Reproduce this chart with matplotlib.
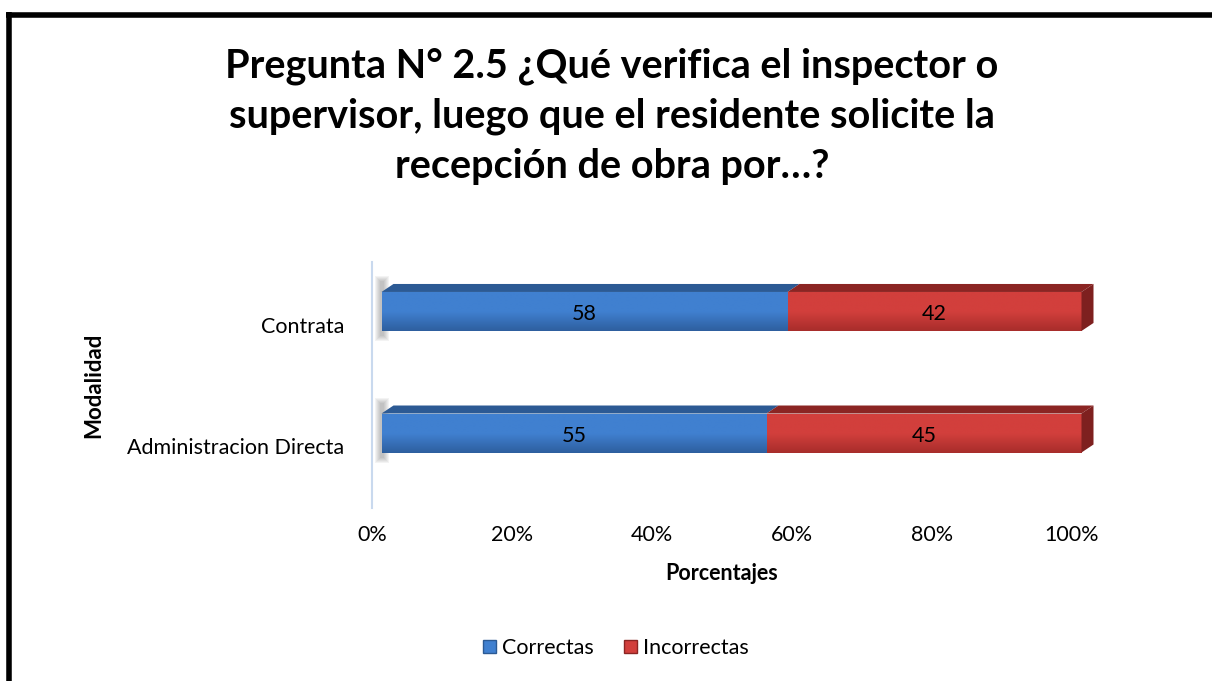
import matplotlib
matplotlib.use("Agg")
import matplotlib.pyplot as plt
import numpy as np
from matplotlib.patches import Polygon, Rectangle
from matplotlib.lines import Line2D

plt.rcParams['font.family'] = ['Lato', 'DejaVu Sans']

categorias = ['Administracion Directa', 'Contrata']
correctas = [55, 58]
incorrectas = [45, 42]
series = ['Correctas', 'Incorrectas']
ticks = [0, 20, 40, 60, 80, 100]
tick_labels = ['0%', '20%', '40%', '60%', '80%', '100%']

# colours: (front top, front bottom, top face, side face)
colores = {
    'Correctas': ('#4080D0', '#2E5F9F', '#2C5A94', '#284F85'),
    'Incorrectas': ('#D23F3C', '#A82D2B', '#8B2523', '#7E201F'),
}

W, H = 1212, 681
fig = plt.figure(figsize=(W / 100, H / 100), dpi=100)
ax = fig.add_axes([372 / W, (H - 508) / H, 700 / W, 246 / H])
ymin, ymax = -0.617, 1.407
ax.set_xlim(0, 100)
ax.set_ylim(ymin, ymax)

px_x = 100 / 700
px_y = (ymax - ymin) / 246
x_off = 9.5 * px_x
dx, dy = 12 * px_x, 8 * px_y
alto = 39 * px_y


def grad_rect(x0, x1, yb, yt, c_top, c_bot):
    cmap = matplotlib.colors.LinearSegmentedColormap.from_list('g', [c_bot, c_top, c_top])
    g = np.linspace(0, 1, 64).reshape(-1, 1)
    im = ax.imshow(g, cmap=cmap, extent=(x0, x1, yb, yt), origin='lower',
                   aspect='auto', zorder=3, interpolation='bilinear')
    r = Rectangle((x0, yb), x1 - x0, yt - yb, transform=ax.transData)
    im.set_clip_path(r)


for i, cat in enumerate(categorias):
    yb, yt = i - alto / 2, i + alto / 2
    # soft shadow at left end
    for k in range(6):
        s = 6 - k
        ax.add_patch(Rectangle((x_off - (1 + s) * px_x, yb - (4 + s) * px_y),
                               (2 + 2 * s) * px_x, alto + (14 + 2 * s) * px_y,
                               color='#404040', alpha=0.06, lw=0, zorder=2, clip_on=False))
    left = x_off
    vals = [correctas[i], incorrectas[i]]
    for j, (serie, v) in enumerate(zip(series, vals)):
        c_top, c_bot, c_face, c_side = colores[serie]
        x0, x1 = left, left + v
        grad_rect(x0, x1, yb, yt, c_top, c_bot)
        ax.add_patch(Polygon([(x0, yt), (x0 + dx, yt + dy), (x1 + dx, yt + dy), (x1, yt)],
                             closed=True, facecolor=c_face, edgecolor='none', zorder=4,
                             clip_on=False))
        if j == len(vals) - 1:
            ax.add_patch(Polygon([(x1, yb), (x1, yt), (x1 + dx, yt + dy), (x1 + dx, yb + dy)],
                                 closed=True, facecolor=c_side, edgecolor='none', zorder=4,
                                 clip_on=False))
        ax.text((x0 + x1) / 2, i - 3 * px_y, str(v), ha='center', va='center',
                fontsize=15.5, color='black', zorder=5)
        left = x1

for s in ['top', 'right', 'bottom']:
    ax.spines[s].set_visible(False)
ax.spines['left'].set_color('#C9D9EE')
ax.spines['left'].set_linewidth(1.5)
ax.set_xticks(ticks, tick_labels, fontsize=15.5)
ax.set_yticks([y - 0.11 for y in range(len(categorias))], categorias, fontsize=15.5)
ax.tick_params(axis='both', length=0)
ax.tick_params(axis='x', pad=12)
ax.tick_params(axis='y', pad=20)
ax.set_xlabel('Porcentajes', fontsize=15.5, fontweight='bold', labelpad=13)
fig.text(94 / W, 1 - 385 / H, 'Modalidad', rotation=90, ha='center', va='center',
         fontsize=16, fontweight='bold')

fig.text(612 / W, 1 - 116 / H,
         'Pregunta N° 2.5 ¿Qué verifica el inspector o\n'
         'supervisor, luego que el residente solicite la\n'
         'recepción de obra por…?',
         ha='center', va='center', fontsize=28.5, fontweight='bold', linespacing=1.43)

# legend
handles = [Rectangle((0, 0), 1, 1, facecolor=colores[s][0], edgecolor=colores[s][2])
           for s in series]
fig.legend(handles, series, loc='center', bbox_to_anchor=(616 / W, 1 - 648 / H),
           ncol=2, frameon=False, fontsize=15.5, handlelength=0.6, handleheight=0.6,
           handletextpad=0.3, columnspacing=1.4)

# outer frame (top and left)
fig.add_artist(Line2D([6 / W, 1], [1 - 14.5 / H, 1 - 14.5 / H], color='black', lw=4,
                      transform=fig.transFigure, solid_capstyle='butt'))
fig.add_artist(Line2D([8.5 / W, 8.5 / W], [0, 1 - 12 / H], color='black', lw=4,
                      transform=fig.transFigure, solid_capstyle='butt'))

fig.savefig('out.png', dpi=100, facecolor='white')
